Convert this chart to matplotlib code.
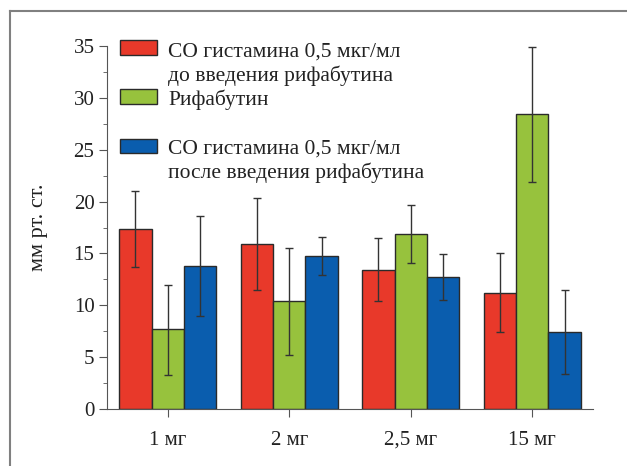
import matplotlib.pyplot as plt
import numpy as np
from matplotlib.patches import Rectangle
from matplotlib.lines import Line2D
from matplotlib.ticker import MultipleLocator

plt.rcParams['font.family'] = ['Liberation Serif', 'DejaVu Serif']

# данные
categories = ["1 мг", "2 мг", "2,5 мг", "15 мг"]
labels = ["СО гистамина 0,5 мкг/мл\nдо введения рифабутина",
          "Рифабутин",
          "СО гистамина 0,5 мкг/мл\nпосле введения рифабутина"]
colors = ["#E8392A", "#97C23D", "#0A5DAE"]

before = [17.4, 15.9, 13.4, 11.2]
before_lo = [13.7, 11.5, 10.4, 7.4]
before_hi = [21.0, 20.3, 16.5, 15.0]

rifab = [7.7, 10.4, 16.9, 28.4]
rifab_lo = [3.3, 5.2, 14.1, 21.9]
rifab_hi = [12.0, 15.5, 19.7, 34.9]

after = [13.8, 14.8, 12.7, 7.4]
after_lo = [9.0, 12.9, 10.5, 3.4]
after_hi = [18.6, 16.6, 14.9, 11.5]

W, H = 627, 466
fig = plt.figure(figsize=(W / 100, H / 100), dpi=100)
ax = fig.add_axes([107 / W, 1 - 409 / H, (593 - 107) / W, (409 - 46) / H])

x = np.arange(len(categories))
w = 0.267
series = [(before, before_lo, before_hi), (rifab, rifab_lo, rifab_hi), (after, after_lo, after_hi)]
for i, (vals, lo, hi) in enumerate(series):
    vals = np.array(vals)
    yerr = [vals - np.array(lo), np.array(hi) - vals]
    ax.bar(x + (i - 1) * w, vals, w, color=colors[i], edgecolor="#2a2a2a", linewidth=1,
           yerr=yerr, error_kw=dict(ecolor="#333333", elinewidth=1, capsize=3, capthick=1))

ax.set_xlim(-0.5, 3.5)
ax.set_ylim(0, 35)
ax.set_xticks(x)
ax.set_xticklabels(categories)
ax.yaxis.set_major_locator(MultipleLocator(5))
ax.yaxis.set_minor_locator(MultipleLocator(2.5))
ax.spines["top"].set_visible(False)
ax.spines["right"].set_visible(False)
for s in ["left", "bottom"]:
    ax.spines[s].set_color("#555555")
ax.tick_params(axis="both", which="both", direction="out", colors="#555555", labelcolor="#222222",
               labelsize=15)
ax.tick_params(axis="y", which="major", length=5.5, pad=3.5)
ax.tick_params(axis="y", which="minor", length=3)
ax.tick_params(axis="x", length=5.5, pad=10)
ax.set_ylabel("мм рт. ст.", fontsize=16, color="#222222", labelpad=18)

# легенда вручную
def fx(px):
    return px / W

def fy(py):
    return 1 - py / H

legend_rows = [(40, 55), (89, 104), (139, 153)]
for (y0, y1), c in zip(legend_rows, colors):
    fig.add_artist(Rectangle((fx(120), fy(y1)), fx(157) - fx(120), fy(y0) - fy(y1),
                             transform=fig.transFigure, facecolor=c, edgecolor="#2a2a2a", linewidth=1))
text_lines = [("СО гистамина 0,5 мкг/мл", 57), ("до введения рифабутина", 81),
              ("Рифабутин", 105),
              ("СО гистамина 0,5 мкг/мл", 154), ("после введения рифабутина", 178)]
for t, yb in text_lines:
    fig.text(fx(168), fy(yb), t, fontsize=15.5, color="#222222", va="baseline", ha="left")

# рамка
fig.add_artist(Line2D([fx(9.5), fx(9.5)], [0, fy(10.5)], transform=fig.transFigure, color="#808080", lw=1.5))
fig.add_artist(Line2D([fx(9.5), 1], [fy(10.5), fy(10.5)], transform=fig.transFigure, color="#808080", lw=1.5))

fig.savefig("out.png", dpi=100)
